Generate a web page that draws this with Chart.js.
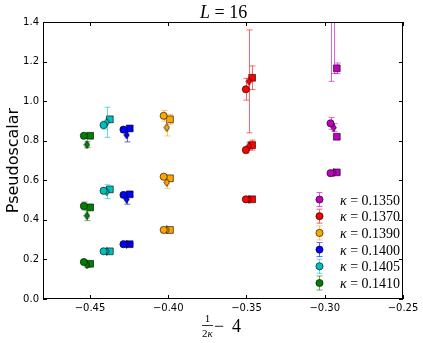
<!DOCTYPE html>
<html>
<head>
<meta charset="utf-8">
<script src="https://cdn.jsdelivr.net/npm/chart.js@4"></script>
<style>
  html, body { margin: 0; padding: 0; background: #fff; }
  #wrap { width: 423px; height: 343px; }
</style>
</head>
<body>
<div id="wrap"><canvas id="chart" width="423" height="343"></canvas></div>
<script>
/* ===================== DATA ===================== */
const kappas = ["0.1350", "0.1370", "0.1390", "0.1400", "0.1405", "0.1410"];
const colors = ["#bf00bf", "#ff0000", "#ffa500", "#0000ff", "#00bfbf", "#008000"];

// x = 1/(2 kappa) - 4 ; diamonds and squares are nudged right a bit
const xCircle  = [-0.2963, -0.3504, -0.4029, -0.4286, -0.4413, -0.4539];
const xDiamond = [-0.2943, -0.3484, -0.4009, -0.4266, -0.4393, -0.4519];
const xSquare  = [-0.2923, -0.3464, -0.3989, -0.4246, -0.4373, -0.4499];

// three levels per kappa
const circleLow   = [0.636, 0.504, 0.349, 0.277, 0.241, 0.187];
const circleMid   = [0.888, 0.753, 0.618, 0.526, 0.547, 0.470];
const circleHigh  = [1.420, 1.060, 0.926, 0.856, 0.879, 0.825];
const diamondLow  = [0.638, 0.504, 0.349, 0.277, 0.241, 0.172];
const diamondMid  = [0.866, 0.773, 0.589, 0.504, 0.542, 0.421];
const diamondHigh = [1.430, 1.100, 0.866, 0.829, 0.893, 0.780];
const squareLow   = [0.640, 0.504, 0.349, 0.277, 0.241, 0.178];
const squareMid   = [0.820, 0.778, 0.610, 0.529, 0.554, 0.463];
const squareHigh  = [1.166, 1.118, 0.908, 0.862, 0.908, 0.825];

// error bars
const circleLowErr   = [0.006, 0.008, 0.006, 0.005, 0.005, 0.006];
const circleMidErr   = [0.030, 0.015, 0.012, 0.010, 0.015, 0.020];
const circleHighErr  = [0.320, 0.055, 0.027, 0.012, 0.020, 0.012];
const diamondLowErr  = [0.008, 0.010, 0.008, 0.008, 0.008, 0.012];
const diamondMidErr  = [0.020, 0.020, 0.030, 0.025, 0.035, 0.025];
const diamondHighErr = [0.290, 0.260, 0.042, 0.035, 0.076, 0.015];
const squareLowErr   = [0.006, 0.008, 0.006, 0.005, 0.005, 0.006];
const squareMidErr   = [0.010, 0.025, 0.012, 0.010, 0.012, 0.012];
const squareHighErr  = [0.027, 0.060, 0.025, 0.012, 0.015, 0.010];

const xTicks = [-0.45, -0.40, -0.35, -0.30, -0.25];
const yTicks = [0.0, 0.2, 0.4, 0.6, 0.8, 1.0, 1.2, 1.4];

/* ===================== HELPERS ===================== */
const SERIF = '"Liberation Serif", "DejaVu Serif", serif';
const SANS = '"DejaVu Sans", sans-serif';

function alpha(hex, a) {
  const n = parseInt(hex.slice(1), 16);
  return `rgba(${n >> 16},${(n >> 8) & 255},${n & 255},${a})`;
}

// thin matplotlib-like diamond as an image point style
function thinDiamond(color) {
  const c = document.createElement("canvas");
  c.width = 7; c.height = 9;
  const g = c.getContext("2d");
  g.beginPath();
  g.moveTo(3.5, 0.5); g.lineTo(6.2, 4.5); g.lineTo(3.5, 8.5); g.lineTo(0.8, 4.5);
  g.closePath();
  g.fillStyle = color; g.fill();
  g.lineWidth = 0.7; g.strokeStyle = "#000"; g.stroke();
  return c;
}

const pts = (xs, lists, errs, k) => lists.map((l, j) => ({ x: xs[k], y: l[k], e: errs[j][k] }));

/* ===================== DATASETS ===================== */
const datasets = [];
kappas.forEach((kap, k) => {
  const col = colors[k];
  datasets.push({
    label: kap, data: pts(xCircle, [circleLow, circleMid, circleHigh], [circleLowErr, circleMidErr, circleHighErr], k),
    pointStyle: "circle", pointRadius: 3.6, backgroundColor: col, borderColor: "#000", borderWidth: 0.6, clip: 0
  });
  datasets.push({
    label: kap, data: pts(xDiamond, [diamondLow, diamondMid, diamondHigh], [diamondLowErr, diamondMidErr, diamondHighErr], k),
    pointStyle: thinDiamond(col), pointRadius: 4, backgroundColor: col, borderColor: "#000", borderWidth: 0.6, clip: 0
  });
  datasets.push({
    label: kap, data: pts(xSquare, [squareLow, squareMid, squareHigh], [squareLowErr, squareMidErr, squareHighErr], k),
    pointStyle: "rect", pointRadius: 4.8, backgroundColor: col, borderColor: "#000", borderWidth: 0.6, clip: 0
  });
});

/* ===================== PLUGIN ===================== */
function errorBar(ctx, x, y1, y2, col) {
  ctx.strokeStyle = col;
  ctx.lineWidth = 1;
  ctx.beginPath();
  ctx.moveTo(x, y1); ctx.lineTo(x, y2);
  ctx.moveTo(x - 3, y1); ctx.lineTo(x + 3, y1);
  ctx.moveTo(x - 3, y2); ctx.lineTo(x + 3, y2);
  ctx.stroke();
}

function mixed(ctx, parts, x, y) {
  parts.forEach(p => {
    ctx.font = p.font;
    ctx.fillText(p.t, x, y);
    x += ctx.measureText(p.t).width;
  });
}

const decor = {
  id: "decor",
  beforeDatasetDraw(chart, args) {
    const { ctx, chartArea: a, scales } = chart;
    const ds = chart.data.datasets[args.index];
    const col = alpha(colors[Math.floor(args.index / 3)], 0.6);
    ctx.save();
    ctx.beginPath(); ctx.rect(a.left, a.top, a.right - a.left, a.bottom - a.top); ctx.clip();
    args.meta.data.forEach((el, i) => {
      const d = ds.data[i];
      errorBar(ctx, Math.round(el.x) + 0.5, scales.y.getPixelForValue(d.y + d.e), scales.y.getPixelForValue(d.y - d.e), col);
    });
    ctx.restore();
  },
  afterDraw(chart) {
    const { ctx, chartArea: a, scales } = chart;
    ctx.save();
    // frame
    ctx.strokeStyle = "#000"; ctx.lineWidth = 1;
    ctx.strokeRect(a.left + 0.5, a.top + 0.5, a.right - a.left - 1, a.bottom - a.top - 1);
    // inward ticks on all sides
    ctx.beginPath();
    xTicks.forEach(v => {
      const px = Math.round(scales.x.getPixelForValue(v)) + 0.5;
      ctx.moveTo(px, a.bottom); ctx.lineTo(px, a.bottom - 4);
      ctx.moveTo(px, a.top); ctx.lineTo(px, a.top + 4);
    });
    yTicks.forEach(v => {
      const py = Math.round(scales.y.getPixelForValue(v)) + 0.5;
      ctx.moveTo(a.left, py); ctx.lineTo(a.left + 4, py);
      ctx.moveTo(a.right, py); ctx.lineTo(a.right - 4, py);
    });
    ctx.stroke();

    ctx.fillStyle = "#000";
    ctx.textBaseline = "alphabetic";
    ctx.textAlign = "left";
    // title L = 16
    mixed(ctx, [{ t: "L", font: `italic 18px ${SERIF}` }, { t: " = 16", font: `18px ${SERIF}` }], 200, 18);

    // x label: 1/(2κ) - 4
    ctx.textAlign = "center";
    ctx.font = `11px ${SERIF}`;
    ctx.fillText("1", 207.5, 322);
    ctx.fillRect(202, 325, 11, 0.8);
    ctx.textAlign = "left";
    mixed(ctx, [{ t: "2", font: `11px ${SERIF}` }, { t: "κ", font: `italic 11px ${SERIF}` }], 202, 337);
    ctx.font = `18px ${SERIF}`;
    ctx.fillText("−", 214, 332);
    ctx.fillText("4", 232, 332);

    // legend
    const lx = 319, ly = 199.5, dy = 16.7;
    kappas.forEach((kap, k) => {
      const y = ly + k * dy;
      errorBar(ctx, lx + 0.5, y - 7, y + 7, alpha(colors[k], 0.6));
      ctx.beginPath();
      ctx.arc(lx + 0.5, y, 3.6, 0, Math.PI * 2);
      ctx.fillStyle = colors[k]; ctx.fill();
      ctx.lineWidth = 0.6; ctx.strokeStyle = "#000"; ctx.stroke();
      ctx.fillStyle = "#000";
      mixed(ctx, [{ t: "κ", font: `italic 14px ${SERIF}` }, { t: " = " + kap, font: `14px ${SERIF}` }], 340, y + 5);
    });
    ctx.restore();
  }
};

/* ===================== CHART ===================== */
new Chart(document.getElementById("chart"), {
  type: "scatter",
  data: { datasets },
  options: {
    responsive: false,
    animation: false,
    layout: { padding: { top: 22, right: 20, left: 0, bottom: 0 } },
    plugins: { legend: { display: false }, tooltip: { enabled: false } },
    scales: {
      x: {
        type: "linear", min: -0.48, max: -0.25,
        grid: { display: false, drawTicks: false }, border: { display: false },
        afterBuildTicks: s => { s.ticks = xTicks.map(v => ({ value: v })); },
        afterFit: s => { s.height = 44; },
        ticks: {
          padding: 3, color: "#000", font: { family: SANS, size: 10 }, maxRotation: 0,
          callback: v => v.toFixed(2).replace("-", "−")
        }
      },
      y: {
        min: 0, max: 1.4,
        grid: { display: false, drawTicks: false }, border: { display: false },
        afterBuildTicks: s => { s.ticks = yTicks.map(v => ({ value: v })); },
        afterFit: s => { s.width = 43; },
        title: { display: true, text: "Pseudoscalar", color: "#000", font: { family: SANS, size: 16 }, padding: { top: 4, bottom: 0 } },
        ticks: { padding: 4, color: "#000", font: { family: SANS, size: 10 }, callback: v => v.toFixed(1) }
      }
    }
  },
  plugins: [decor]
});
</script>
</body>
</html>
